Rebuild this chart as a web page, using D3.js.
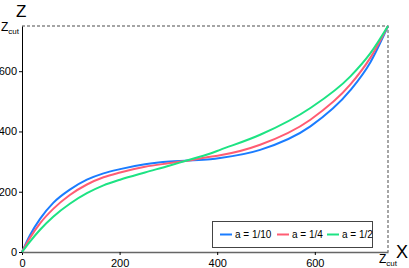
<!DOCTYPE html>
<html>
<head>
<meta charset="utf-8">
<script src="https://cdn.jsdelivr.net/npm/d3@7"></script>
<style>
  body { margin: 0; background: #fff; }
  text { font-family: "Liberation Sans", Arial, sans-serif; }
</style>
</head>
<body>
<div id="chart"></div>
<script>
// values
const zCut = 750;
const xs = [0, 16, 37, 64, 98, 133, 167, 201, 252, 303, 334, 386, 406, 488, 591, 673, 714, 750];
const blueVals  = [0, 55, 110, 163, 207, 240, 261, 275, 291, 300, 303, 308, 312, 339, 417, 537, 630, 750];
const redVals   = [0, 46, 95, 143, 189, 224, 248, 264, 283, 295, 302, 316, 321, 356, 439, 556, 645, 750];
const greenVals = [0, 34, 74, 117, 160, 195, 221, 240, 264, 287, 302, 327, 339, 389, 478, 583, 660, 750];
const seriesNames = ["a = 1/10", "a = 1/4", "a = 1/2"];
const seriesColors = ["#1a7cff", "#ff5c73", "#1de383"];
const xTicks = [0, 200, 400, 600];
const yTicks = [0, 200, 400, 600];

const width = 409, height = 268;
const margin = {top: 26, right: 21, bottom: 16, left: 22};

const svg = d3.select("#chart")
  .append("svg")
    .attr("width", width)
    .attr("height", height);

const x = d3.scaleLinear()
  .domain([0, zCut])
  .range([margin.left, width - margin.right]);
const y = d3.scaleLinear()
  .domain([0, zCut])
  .range([height - margin.bottom, margin.top]);

// dashed frame at Zcut
svg.append("path")
  .attr("d", "M" + x(0) + "," + y(zCut) + "H" + x(zCut) + "V" + y(0))
  .attr("fill", "none")
  .attr("stroke", "#888")
  .attr("stroke-width", 1.5)
  .attr("stroke-dasharray", "3,2");

// axes
const xAxis = svg.append("g")
  .attr("transform", "translate(0," + y(0) + ")")
  .call(d3.axisBottom(x).tickValues(xTicks).tickSize(3).tickSizeOuter(0));
xAxis.select(".domain").attr("stroke", "#666").attr("stroke-width", 1.6);
xAxis.selectAll("text").attr("font-size", 11).attr("fill", "#000").attr("dy", "0.8em");

const yAxis = svg.append("g")
  .attr("transform", "translate(" + x(0) + ",0)")
  .call(d3.axisLeft(y).tickValues(yTicks).tickSize(3).tickSizeOuter(0));
yAxis.select(".domain").attr("stroke", "#000");
yAxis.selectAll("text").attr("font-size", 11).attr("fill", "#000").attr("dx", "0.1em");

// Zcut tick labels
const yCut = svg.append("text")
  .attr("x", 1)
  .attr("y", y(zCut) + 5)
  .attr("font-size", 12);
yCut.append("tspan").text("Z");
yCut.append("tspan").attr("font-size", 8).attr("dy", 3).text("cut");

const xCut = svg.append("text")
  .attr("x", x(zCut) - 9)
  .attr("y", y(0) + 11)
  .attr("font-size", 12);
xCut.append("tspan").text("Z");
xCut.append("tspan").attr("font-size", 8).attr("dy", 3).text("cut");

// axis titles
svg.append("text")
  .attr("x", 16)
  .attr("y", 17)
  .attr("font-size", 17)
  .text("Z");
svg.append("text")
  .attr("x", 396)
  .attr("y", 258)
  .attr("font-size", 18)
  .text("X");

// curves
const allVals = [blueVals, redVals, greenVals];
const line = d3.line()
  .x(function(d) { return x(d[0]); })
  .y(function(d) { return y(d[1]); })
  .curve(d3.curveMonotoneX);

allVals.forEach(function(vals, i) {
  svg.append("path")
    .datum(xs.map(function(v, j) { return [v, vals[j]]; }))
    .attr("d", line)
    .attr("fill", "none")
    .attr("stroke", seriesColors[i])
    .attr("stroke-width", 2);
});

// legend
const legend = svg.append("g");
legend.append("rect")
  .attr("x", 212.5)
  .attr("y", 221.5)
  .attr("width", 160)
  .attr("height", 26)
  .attr("fill", "#fff")
  .attr("stroke", "#444");

const legendX = [220, 277, 327];
seriesNames.forEach(function(name, i) {
  legend.append("line")
    .attr("x1", legendX[i])
    .attr("x2", legendX[i] + 12)
    .attr("y1", 234.5)
    .attr("y2", 234.5)
    .attr("stroke", seriesColors[i])
    .attr("stroke-width", 2);
  legend.append("text")
    .attr("x", legendX[i] + 15)
    .attr("y", 238)
    .attr("font-size", 10)
    .text(name);
});
</script>
</body>
</html>
